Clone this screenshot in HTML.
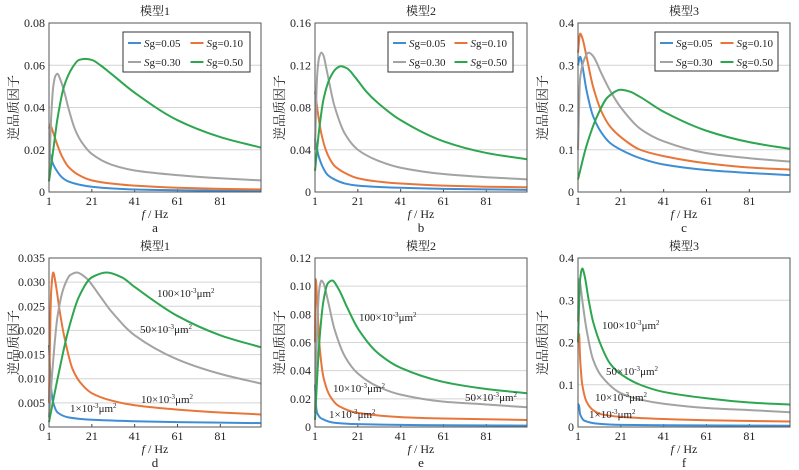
<!DOCTYPE html>
<html><head><meta charset="utf-8"><style>
body{margin:0;background:#fff}
svg{display:block;font-family:"Liberation Serif","Noto Serif CJK SC",serif}
</style></head><body>
<svg id="c" width="799" height="470" viewBox="0 0 799 470"></svg>
<script>
const xTicks=[1,21,41,61,81];
const legendLabels=["0.05","0.10","0.30","0.50"];
const colors=["#3f8ed4","#e8763a","#a3a3a3","#2ea650"];
// panel a
const aF0=[1,1.5,2,3,5,7,10,15,21,30,41,61,81,100], aQ0=[0.018,0.018,0.016,0.013,0.0095,0.007,0.005,0.0035,0.0025,0.0017,0.0012,0.0008,0.0006,0.0005];
const aF1=[1,1.5,2,3,5,7,10,15,21,30,41,61,81,100], aQ1=[0.03,0.032,0.031,0.028,0.022,0.017,0.012,0.008,0.0055,0.004,0.003,0.002,0.0015,0.0012];
const aF2=[1,2,3,4,5,6,8,10,13,16,21,30,41,61,81,100], aQ2=[0.005,0.035,0.05,0.055,0.056,0.054,0.048,0.04,0.03,0.024,0.018,0.013,0.0102,0.008,0.0065,0.0055];
const aF3=[1,3,5,8,12,15,18,21,25,30,41,61,81,100], aQ3=[0.005,0.02,0.035,0.05,0.059,0.0625,0.063,0.0625,0.06,0.056,0.047,0.034,0.026,0.021];
// panel b
const bF0=[1,2,3,5,7,10,15,21,30,41,61,81,100], bQ0=[0.05,0.04,0.032,0.022,0.016,0.012,0.008,0.006,0.0048,0.004,0.003,0.0025,0.002];
const bF1=[1,2,3,4,6,8,10,15,21,30,41,61,81,100], bQ1=[0.095,0.08,0.066,0.055,0.04,0.031,0.025,0.018,0.013,0.01,0.008,0.006,0.005,0.0045];
const bF2=[1,2,3,4,5,6,8,10,15,21,30,41,61,81,100], bQ2=[0.04,0.11,0.128,0.132,0.129,0.12,0.1,0.082,0.055,0.04,0.03,0.023,0.017,0.014,0.012];
const bF3=[1,3,5,8,11,13,16,20,25,30,41,61,81,100], bQ3=[0.02,0.06,0.088,0.108,0.117,0.119,0.117,0.108,0.095,0.085,0.068,0.048,0.037,0.031];
// panel c
const cF0=[1,2,3,5,8,12,16,21,30,41,61,81,100], cQ0=[0.3,0.32,0.3,0.24,0.18,0.14,0.116,0.1,0.08,0.065,0.052,0.045,0.04];
const cF1=[1,2,3,5,8,12,16,21,30,41,61,81,100], cQ1=[0.33,0.375,0.365,0.32,0.25,0.19,0.155,0.13,0.1,0.085,0.068,0.058,0.053];
const cF2=[1,2,4,6,8,12,16,21,30,41,61,81,100], cQ2=[0.1,0.27,0.315,0.33,0.322,0.28,0.24,0.2,0.15,0.12,0.092,0.08,0.072];
const cF3=[1,5,10,15,21,25,30,41,61,81,100], cQ3=[0.03,0.11,0.18,0.225,0.242,0.238,0.225,0.19,0.145,0.118,0.102];
// panel d
const dF0=[1,1.5,2,3,5,10,21,41,61,81,100], dQ0=[0.017,0.012,0.008,0.005,0.003,0.002,0.0015,0.0012,0.001,0.0009,0.0008];
const dF1=[1,2,3,4,6,8,12,16,21,30,41,61,81,100], dQ1=[0.005,0.028,0.032,0.03,0.024,0.019,0.012,0.009,0.007,0.0055,0.0045,0.0036,0.003,0.0026];
const dF2=[1,3,5,8,11,14,18,25,30,41,61,81,100], dQ2=[0.002,0.014,0.023,0.029,0.0315,0.032,0.031,0.027,0.024,0.019,0.014,0.011,0.009];
const dF3=[1,5,10,15,21,28,35,41,61,81,100], dQ3=[0.001,0.01,0.02,0.027,0.031,0.032,0.031,0.029,0.023,0.019,0.0165];
// panel e
const eF0=[1,1.5,2,4,10,21,41,61,100], eQ0=[0.03,0.015,0.01,0.006,0.003,0.002,0.0015,0.0012,0.001];
const eF1=[1,1.3,2,3,5,8,12,21,41,61,81,100], eQ1=[0.06,0.105,0.09,0.06,0.035,0.022,0.015,0.01,0.007,0.006,0.0055,0.005];
const eF2=[1,2,3,4,5,7,10,15,21,30,41,61,81,100], eQ2=[0.01,0.07,0.098,0.104,0.102,0.09,0.07,0.05,0.038,0.029,0.023,0.018,0.016,0.014];
const eF3=[1,3,5,7,9,12,16,21,30,41,61,81,100], eQ3=[0.005,0.06,0.09,0.102,0.104,0.098,0.085,0.07,0.053,0.042,0.032,0.027,0.024];
// panel f
const fF0=[1,1.5,2,4,10,21,41,100], fQ0=[0.055,0.05,0.03,0.015,0.008,0.005,0.004,0.003];
const fF1=[1,1.5,2,3,5,8,12,21,41,61,100], fQ1=[0.2,0.22,0.16,0.1,0.06,0.04,0.03,0.024,0.019,0.016,0.013];
const fF2=[1,1.5,2,3,5,8,12,21,30,41,61,81,100], fQ2=[0.25,0.35,0.34,0.3,0.23,0.16,0.12,0.08,0.065,0.055,0.045,0.04,0.035];
const fF3=[1,2,3,4,6,8,12,16,21,30,41,61,81,100], fQ3=[0.2,0.35,0.375,0.36,0.3,0.25,0.19,0.15,0.125,0.1,0.083,0.068,0.058,0.053];

const NS="http://www.w3.org/2000/svg";
const svg=document.getElementById('c');
function mk(tag,attrs,parent){const e=document.createElementNS(NS,tag);for(const k in attrs)e.setAttribute(k,attrs[k]);(parent||svg).appendChild(e);return e;}
function monoPath(px,py){
  const n=px.length;const d=[],m=[];
  for(let i=0;i<n-1;i++)d.push((py[i+1]-py[i])/(px[i+1]-px[i]));
  m[0]=d[0];m[n-1]=d[n-2];
  for(let i=1;i<n-1;i++){if(d[i-1]*d[i]<=0)m[i]=0;else{m[i]=2/(1/d[i-1]+1/d[i]);}}
  let s='M'+px[0].toFixed(2)+','+py[0].toFixed(2);
  for(let i=0;i<n-1;i++){const h=px[i+1]-px[i];
    s+=' C'+(px[i]+h/3).toFixed(2)+','+(py[i]+m[i]*h/3).toFixed(2)+' '+(px[i+1]-h/3).toFixed(2)+','+(py[i+1]-m[i+1]*h/3).toFixed(2)+' '+px[i+1].toFixed(2)+','+py[i+1].toFixed(2);}
  return s;}
const panels=[
 {id:'a',x0:49,x1:261,y0:23,y1:192,title:'模型1',ymax:0.08,yt:[0,0.02,0.04,0.06,0.08],ylab:['0','0.02','0.04','0.06','0.08'],series:[[aF0,aQ0],[aF1,aQ1],[aF2,aQ2],[aF3,aQ3]],legend:[123,32,250,72]},
 {id:'b',x0:315,x1:527,y0:23,y1:192,title:'模型2',ymax:0.16,yt:[0,0.04,0.08,0.12,0.16],ylab:['0','0.04','0.08','0.12','0.16'],series:[[bF0,bQ0],[bF1,bQ1],[bF2,bQ2],[bF3,bQ3]],legend:[388,32,513,72]},
 {id:'c',x0:578,x1:790,y0:23,y1:192,title:'模型3',ymax:0.4,yt:[0,0.1,0.2,0.3,0.4],ylab:['0','0.1','0.2','0.3','0.4'],series:[[cF0,cQ0],[cF1,cQ1],[cF2,cQ2],[cF3,cQ3]],legend:[655,32,778,71]},
 {id:'d',x0:49,x1:261,y0:258,y1:427,title:'模型1',ymax:0.035,yt:[0,0.005,0.01,0.015,0.02,0.025,0.03,0.035],ylab:['0','0.005','0.010','0.015','0.020','0.025','0.030','0.035'],series:[[dF0,dQ0],[dF1,dQ1],[dF2,dQ2],[dF3,dQ3]],labels:[[70,412,'1'],[141,403,'10'],[140,333,'50'],[157,297,'100']]},
 {id:'e',x0:315,x1:527,y0:258,y1:427,title:'模型2',ymax:0.12,yt:[0,0.02,0.04,0.06,0.08,0.1,0.12],ylab:['0','0.02','0.04','0.06','0.08','0.10','0.12'],series:[[eF0,eQ0],[eF1,eQ1],[eF2,eQ2],[eF3,eQ3]],labels:[[329,418,'1'],[333,392,'10'],[465,401,'50'],[359,321,'100']]},
 {id:'f',x0:578,x1:790,y0:258,y1:427,title:'模型3',ymax:0.4,yt:[0,0.1,0.2,0.3,0.4],ylab:['0','0.1','0.2','0.3','0.4'],series:[[fF0,fQ0],[fF1,fQ1],[fF2,fQ2],[fF3,fQ3]],labels:[[589,418,'1'],[595,401,'10'],[606,375,'50'],[602,329,'100']]}
];
const names=['blue','orange','gray','green'];
panels.forEach(p=>{
  const g=mk('g',{});
  
  
  const sx=f=>p.x0+(f-1)/(100-1)*(p.x1-p.x0);
  const sy=q=>p.y1-q/p.ymax*(p.y1-p.y0);
  p.yt.forEach((v,i)=>{
    if(i>0&&i<p.yt.length-1){const gl=mk('line',{x1:p.x0,x2:p.x1,y1:sy(v),y2:sy(v),stroke:'#d4d4d4','stroke-width':1},g);
      }
    const t=mk('text',{x:p.x0-4,y:sy(v)+4,'text-anchor':'end','font-size':12,fill:'#222'},g);t.textContent=p.ylab[i];
    
  });
  xTicks.forEach(v=>{
    const tk=mk('line',{x1:sx(v),x2:sx(v),y1:p.y1,y2:p.y1-3,stroke:'#444'},g);
    
    const t=mk('text',{x:sx(v),y:p.y1+13,'text-anchor':'middle','font-size':12,fill:'#222'},g);t.textContent=v;
    
  });
  p.series.forEach((s,i)=>{
    const path=mk('path',{d:monoPath(s[0].map(sx),s[1].map(sy)),fill:'none',stroke:colors[i],'stroke-width':2},g);
    
    
  });
  const fr=mk('rect',{x:p.x0,y:p.y0,width:p.x1-p.x0,height:p.y1-p.y0,fill:'none',stroke:'#555','stroke-width':1},g);
  
  const tt=mk('text',{x:(p.x0+p.x1)/2,y:p.y0-8,'text-anchor':'middle','font-size':12,fill:'#222'},g);tt.textContent=p.title;
  
  const yl=mk('text',{x:0,y:0,'text-anchor':'middle','font-size':13,fill:'#222',transform:'translate('+(p.x0-31)+','+((p.y0+p.y1)/2)+') rotate(-90)'},g);yl.textContent='逆品质因子';
  
  const xl=mk('text',{x:(p.x0+p.x1)/2,y:p.y1+26,'text-anchor':'middle','font-size':12,fill:'#222'},g);
  xl.innerHTML='<tspan font-style="italic">f</tspan> / Hz';
  
  const sl=mk('text',{x:(p.x0+p.x1)/2,y:p.y1+40,'text-anchor':'middle','font-size':13,fill:'#222'},g);sl.textContent=p.id;
  
  if(p.legend){const [lx0,ly0,lx1,ly1]=p.legend;
    const lg=mk('g',{},g);
    mk('rect',{x:lx0,y:ly0,width:lx1-lx0,height:ly1-ly0,fill:'#fff',stroke:'#333'},lg);
    const w=(lx1-lx0)/2;
    legendLabels.forEach((lab,i)=>{
      const cx=lx0+5+(i%2)*(w-1), cy=ly0+11+Math.floor(i/2)*19;
      const e=mk('g',{},lg);
      mk('line',{x1:cx,x2:cx+13,y1:cy,y2:cy,stroke:colors[i],'stroke-width':2},e);
      const t=mk('text',{x:cx+16,y:cy+4,'font-size':11,fill:'#222'},e);
      t.innerHTML='<tspan font-style="italic">S</tspan>g='+lab;
    });
  }
  if(p.labels){p.labels.forEach(l=>{
    const t=mk('text',{x:l[0],y:l[1],'font-size':11,fill:'#222'},g);
    t.innerHTML=l[2]+'×10<tspan dy="-4" font-size="7">-3</tspan><tspan dy="4">μm</tspan><tspan dy="-4" font-size="7">2</tspan>';
    
  });}
});
</script>
</body></html>
